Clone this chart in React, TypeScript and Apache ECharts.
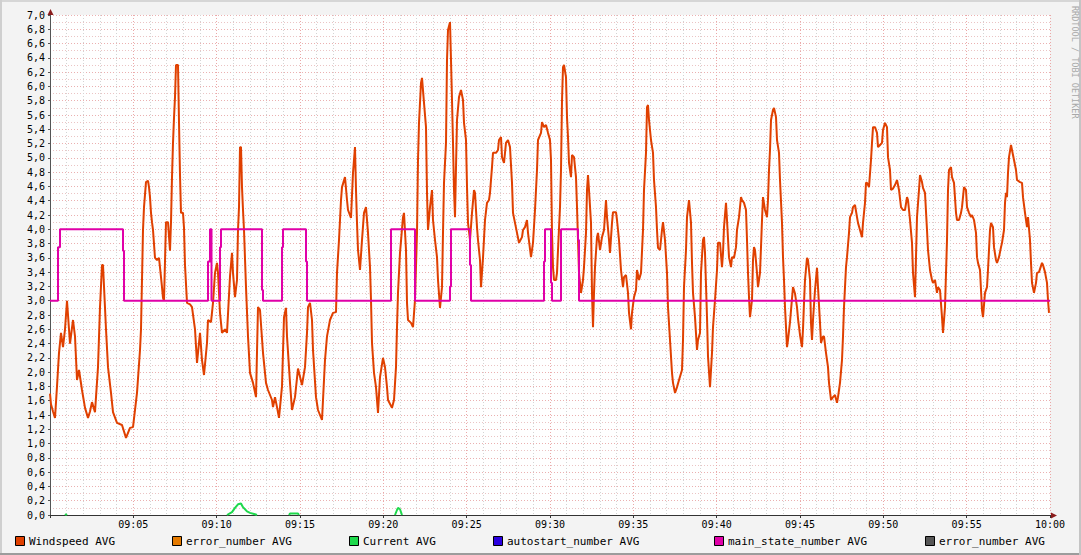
import React, { useEffect, useRef } from "react";
import * as echarts from "echarts";

// Time axis: minutes after 09:00 (0 .. 60)
const xTickMinutes = [5, 10, 15, 20, 25, 30, 35, 40, 45, 50, 55, 60];

// Windspeed AVG : [minute, value]
const windspeed: [number, number][] = [
  [0.0, 1.7], [0.06, 1.55], [0.18, 1.45], [0.3, 1.36], [0.42, 1.8], [0.54, 2.27], [0.66, 2.55], [0.78, 2.35],
  [0.9, 2.6], [1.02, 3.0], [1.08, 2.8], [1.2, 2.4], [1.38, 2.73], [1.5, 2.5], [1.62, 1.89], [1.74, 2.03],
  [1.92, 1.75], [2.1, 1.5], [2.28, 1.36], [2.4, 1.45], [2.52, 1.58], [2.7, 1.44], [2.88, 2.07], [3.0, 2.91],
  [3.12, 3.5], [3.18, 3.5], [3.36, 2.6], [3.48, 2.07], [3.66, 1.71], [3.78, 1.44], [4.02, 1.29], [4.32, 1.26],
  [4.56, 1.08], [4.8, 1.22], [4.98, 1.23], [5.22, 1.71], [5.4, 2.31], [5.46, 2.6], [5.58, 3.99], [5.64, 4.31],
  [5.76, 4.66], [5.88, 4.68], [5.94, 4.59], [6.0, 4.45], [6.06, 4.23], [6.12, 4.1], [6.18, 3.99], [6.3, 3.6],
  [6.42, 3.57], [6.54, 3.6], [6.66, 3.33], [6.72, 3.19], [6.78, 3.04], [6.84, 3.0], [6.96, 4.1], [7.08, 4.1],
  [7.2, 3.7], [7.26, 4.1], [7.32, 4.73], [7.38, 5.21], [7.44, 5.56], [7.5, 5.85], [7.56, 6.3], [7.68, 6.3],
  [7.74, 5.5], [7.8, 4.76], [7.86, 4.23], [7.98, 4.23], [8.04, 4.02], [8.1, 3.5], [8.22, 2.97], [8.4, 2.95],
  [8.52, 2.91], [8.7, 2.6], [8.82, 2.13], [9.0, 2.55], [9.12, 2.17], [9.24, 1.96], [9.42, 2.41], [9.48, 2.73],
  [9.66, 2.7], [9.78, 2.97], [9.9, 3.39], [10.02, 3.53], [10.08, 3.39], [10.2, 2.83], [10.32, 2.55], [10.5, 2.6],
  [10.62, 2.55], [10.8, 3.34], [10.92, 3.67], [10.98, 3.39], [11.1, 3.05], [11.22, 3.29], [11.28, 3.99], [11.34, 4.31],
  [11.4, 5.15], [11.46, 5.15], [11.52, 4.59], [11.58, 4.27], [11.64, 3.99], [11.76, 3.19], [11.88, 2.5], [12.0, 1.99],
  [12.18, 1.85], [12.36, 1.65], [12.48, 2.91], [12.6, 2.87], [12.78, 2.27], [12.96, 1.85], [13.08, 1.75], [13.32, 1.61],
  [13.38, 1.51], [13.5, 1.65], [13.62, 1.51], [13.74, 1.36], [13.92, 1.8], [14.04, 2.77], [14.16, 2.9], [14.22, 2.5],
  [14.4, 1.85], [14.52, 1.47], [14.7, 1.65], [14.88, 2.05], [15.12, 1.82], [15.3, 2.07], [15.42, 2.55], [15.48, 2.91],
  [15.6, 2.97], [15.72, 2.73], [15.78, 2.31], [15.96, 1.65], [16.08, 1.47], [16.32, 1.33], [16.38, 1.61], [16.5, 2.17],
  [16.62, 2.5], [16.8, 2.73], [16.98, 2.83], [17.16, 2.84], [17.22, 3.39], [17.34, 3.85], [17.46, 4.41], [17.52, 4.59],
  [17.7, 4.73], [17.82, 4.41], [17.88, 4.27], [18.06, 4.16], [18.18, 4.79], [18.3, 5.15], [18.36, 4.55], [18.42, 4.09],
  [18.48, 3.71], [18.6, 3.43], [18.72, 3.85], [18.84, 4.23], [18.96, 4.31], [19.08, 3.95], [19.2, 3.47], [19.26, 3.01],
  [19.32, 2.41], [19.44, 1.99], [19.56, 1.79], [19.68, 1.43], [19.8, 1.93], [19.98, 2.2], [20.1, 2.07], [20.22, 1.79],
  [20.28, 1.61], [20.52, 1.5], [20.64, 1.61], [20.76, 2.07], [20.82, 2.63], [20.88, 3.11], [21.0, 3.67], [21.18, 4.17],
  [21.24, 4.23], [21.36, 3.71], [21.42, 2.97], [21.48, 2.73], [21.66, 2.69], [21.78, 2.63], [21.9, 3.01], [22.02, 3.95],
  [22.08, 4.97], [22.14, 5.49], [22.26, 6.05], [22.32, 6.12], [22.44, 5.77], [22.56, 5.43], [22.62, 4.51], [22.68, 3.99],
  [22.8, 4.31], [22.92, 4.55], [22.98, 4.13], [23.1, 3.85], [23.22, 3.61], [23.28, 3.29], [23.4, 2.9], [23.52, 3.19],
  [23.58, 3.95], [23.64, 4.65], [23.76, 5.21], [23.82, 6.37], [23.88, 6.79], [24.0, 6.9], [24.06, 6.37], [24.12, 5.81],
  [24.18, 5.21], [24.24, 4.55], [24.3, 4.17], [24.36, 4.87], [24.42, 5.53], [24.54, 5.85], [24.66, 5.95], [24.78, 5.81],
  [24.84, 5.49], [24.96, 5.25], [25.02, 4.6], [25.08, 4.09], [25.2, 3.85], [25.32, 4.23], [25.44, 4.55], [25.5, 4.51],
  [25.62, 4.03], [25.68, 3.85], [25.8, 3.57], [25.86, 3.19], [25.98, 3.6], [26.1, 4.13], [26.22, 4.37], [26.34, 4.41],
  [26.4, 4.51], [26.52, 4.87], [26.58, 5.07], [26.76, 5.07], [26.88, 5.11], [26.94, 5.25], [27.06, 5.29], [27.12, 5.01],
  [27.24, 4.93], [27.36, 5.21], [27.48, 5.25], [27.6, 5.15], [27.72, 4.65], [27.78, 4.23], [27.9, 4.09], [28.02, 3.95],
  [28.14, 3.81], [28.32, 3.89], [28.38, 3.99], [28.5, 4.03], [28.62, 4.13], [28.68, 3.95], [28.86, 3.61], [28.98, 3.81],
  [29.1, 4.27], [29.22, 4.83], [29.28, 5.25], [29.46, 5.35], [29.52, 5.5], [29.64, 5.43], [29.76, 5.46], [29.88, 5.35],
  [30.0, 5.25], [30.06, 4.97], [30.12, 3.95], [30.18, 3.47], [30.24, 3.29], [30.36, 3.29], [30.42, 3.39], [30.48, 3.71],
  [30.6, 4.31], [30.66, 4.83], [30.72, 5.8], [30.78, 6.27], [30.84, 6.3], [30.96, 6.13], [31.02, 5.57], [31.08, 5.29],
  [31.14, 4.93], [31.26, 4.73], [31.32, 5.04], [31.44, 5.01], [31.56, 4.73], [31.62, 4.31], [31.68, 3.85], [31.74, 3.39],
  [31.86, 3.11], [31.98, 3.29], [32.04, 3.47], [32.16, 3.95], [32.22, 4.55], [32.28, 4.76], [32.34, 4.55], [32.46, 4.09],
  [32.52, 3.11], [32.58, 2.63], [32.64, 3.11], [32.7, 3.47], [32.82, 3.89], [32.88, 3.95], [33.0, 3.71], [33.12, 3.89],
  [33.24, 3.99], [33.36, 4.41], [33.42, 4.17], [33.54, 3.85], [33.6, 3.67], [33.72, 4.09], [33.78, 4.24], [33.96, 4.24],
  [34.02, 4.13], [34.14, 3.85], [34.26, 3.43], [34.38, 3.19], [34.44, 3.33], [34.56, 3.36], [34.68, 3.11], [34.74, 2.83],
  [34.86, 2.6], [34.92, 2.83], [35.04, 3.05], [35.16, 3.15], [35.22, 3.43], [35.34, 3.29], [35.46, 3.39], [35.58, 3.99],
  [35.64, 4.55], [35.76, 5.07], [35.82, 5.71], [35.88, 5.74], [35.94, 5.53], [36.06, 5.25], [36.18, 5.07], [36.24, 4.69],
  [36.36, 4.31], [36.42, 3.99], [36.48, 3.74], [36.6, 3.71], [36.72, 3.99], [36.78, 4.1], [36.9, 3.85], [37.02, 3.39],
  [37.08, 2.91], [37.2, 2.45], [37.32, 1.99], [37.38, 1.85], [37.5, 1.71], [37.62, 1.79], [37.74, 1.89], [37.92, 2.03],
  [37.98, 2.45], [38.04, 3.19], [38.16, 3.71], [38.22, 4.17], [38.34, 4.41], [38.46, 4.09], [38.52, 3.53], [38.58, 3.11],
  [38.7, 2.77], [38.82, 2.31], [38.88, 2.45], [39.0, 2.55], [39.06, 3.39], [39.18, 3.85], [39.24, 3.89], [39.3, 3.67],
  [39.42, 2.77], [39.48, 2.22], [39.6, 1.79], [39.72, 2.27], [39.78, 2.63], [39.9, 3.01], [40.02, 3.43], [40.08, 3.81],
  [40.2, 3.81], [40.32, 3.47], [40.38, 3.67], [40.44, 4.03], [40.56, 4.37], [40.62, 4.13], [40.74, 3.61], [40.86, 3.47],
  [40.92, 3.61], [41.04, 3.6], [41.16, 3.75], [41.22, 3.99], [41.34, 4.17], [41.46, 4.45], [41.52, 4.41], [41.64, 4.37],
  [41.76, 4.27], [41.82, 3.85], [41.88, 3.39], [41.94, 3.05], [42.0, 2.77], [42.12, 3.01], [42.18, 3.57], [42.24, 3.75],
  [42.3, 3.71], [42.42, 3.39], [42.48, 3.19], [42.6, 3.39], [42.66, 3.75], [42.72, 4.13], [42.78, 4.45], [42.9, 4.27],
  [43.02, 4.17], [43.08, 4.41], [43.14, 4.83], [43.2, 5.11], [43.26, 5.53], [43.38, 5.67], [43.44, 5.7], [43.56, 5.57],
  [43.62, 5.25], [43.74, 5.07], [43.8, 4.69], [43.92, 4.09], [43.98, 3.61], [44.04, 3.29], [44.1, 2.91], [44.22, 2.35],
  [44.28, 2.45], [44.4, 2.7], [44.52, 3.03], [44.58, 3.19], [44.7, 3.1], [44.82, 2.91], [44.88, 2.75], [45.0, 2.52],
  [45.12, 2.35], [45.18, 2.6], [45.24, 2.97], [45.3, 3.29], [45.42, 3.6], [45.48, 3.57], [45.6, 3.29], [45.66, 2.69],
  [45.72, 2.45], [45.78, 2.73], [45.9, 3.15], [46.02, 3.46], [46.08, 3.19], [46.2, 2.69], [46.26, 2.41], [46.38, 2.5],
  [46.44, 2.5], [46.56, 2.27], [46.68, 2.07], [46.74, 1.85], [46.86, 1.61], [46.98, 1.65], [47.1, 1.68], [47.22, 1.57],
  [47.28, 1.65], [47.4, 1.85], [47.52, 2.17], [47.58, 2.5], [47.64, 2.91], [47.76, 3.47], [47.82, 3.61], [47.94, 3.95],
  [48.0, 4.17], [48.12, 4.23], [48.18, 4.31], [48.3, 4.34], [48.42, 4.17], [48.48, 4.09], [48.6, 3.99], [48.72, 3.89],
  [48.78, 4.09], [48.9, 4.37], [48.96, 4.65], [49.02, 4.65], [49.14, 4.59], [49.26, 4.97], [49.32, 5.21], [49.38, 5.43],
  [49.5, 5.43], [49.62, 5.35], [49.68, 5.15], [49.8, 5.18], [49.92, 5.21], [49.98, 5.39], [50.1, 5.49], [50.22, 5.43],
  [50.28, 5.01], [50.4, 4.83], [50.46, 4.55], [50.58, 4.57], [50.7, 4.62], [50.82, 4.69], [50.94, 4.55], [51.06, 4.31],
  [51.18, 4.27], [51.3, 4.27], [51.42, 4.45], [51.48, 4.41], [51.6, 4.13], [51.72, 3.81], [51.78, 3.39], [51.9, 3.05],
  [51.96, 3.61], [52.02, 4.17], [52.14, 4.55], [52.2, 4.76], [52.32, 4.66], [52.38, 4.58], [52.5, 4.51], [52.62, 3.99],
  [52.68, 3.71], [52.8, 3.43], [52.92, 3.29], [52.98, 3.25], [53.1, 3.29], [53.22, 3.11], [53.28, 3.19], [53.4, 3.15],
  [53.52, 2.77], [53.58, 2.55], [53.7, 2.91], [53.82, 3.85], [53.88, 4.55], [53.94, 4.83], [54.06, 4.87], [54.12, 4.73],
  [54.24, 4.65], [54.36, 4.23], [54.42, 4.13], [54.54, 4.13], [54.66, 4.23], [54.72, 4.31], [54.84, 4.59], [54.96, 4.55],
  [55.02, 4.31], [55.14, 4.23], [55.26, 4.17], [55.32, 4.2], [55.44, 4.13], [55.56, 3.95], [55.62, 3.61], [55.68, 3.53],
  [55.8, 3.43], [55.86, 3.15], [55.92, 2.87], [55.98, 2.77], [56.1, 3.11], [56.22, 3.19], [56.28, 3.43], [56.4, 3.99],
  [56.46, 4.09], [56.58, 4.03], [56.64, 3.75], [56.76, 3.57], [56.82, 3.53], [56.94, 3.61], [57.06, 3.75], [57.12, 3.81],
  [57.24, 3.99], [57.3, 4.37], [57.36, 4.51], [57.42, 4.45], [57.48, 4.79], [57.54, 5.01], [57.66, 5.18], [57.72, 5.11],
  [57.84, 4.97], [57.96, 4.83], [58.02, 4.69], [58.2, 4.66], [58.32, 4.65], [58.38, 4.45], [58.5, 4.23], [58.62, 4.03],
  [58.68, 4.17], [58.8, 3.85], [58.86, 3.53], [58.92, 3.25], [59.04, 3.11], [59.16, 3.25], [59.22, 3.39], [59.34, 3.4],
  [59.52, 3.53], [59.58, 3.5], [59.7, 3.4], [59.82, 3.25], [59.88, 3.01], [59.94, 2.83],
];

// main_state_number AVG : [minute, value] (value holds from that minute on)
const mainState: [number, number][] = [
  [0.0, 3.0], [0.48, 3.75], [0.6, 4.0], [4.38, 3.7], [4.44, 3.0], [9.48, 3.55], [9.6, 4.0], [9.69, 3.0],
  [10.2, 3.75], [10.26, 4.0], [12.72, 3.15], [12.78, 3.0], [13.92, 3.75], [13.98, 4.0], [15.36, 3.55], [15.42, 3.0],
  [20.46, 4.0], [21.9, 3.0], [24.0, 3.2], [24.06, 4.0], [25.2, 3.5], [25.26, 3.0], [29.64, 3.55], [29.7, 4.0],
  [30.06, 3.25], [30.12, 3.0], [30.66, 4.0], [31.68, 3.85], [31.74, 3.0], [60.0, 3.0],
];

// Current AVG : [minute, value]; null = no line (value 0, hidden by the axis)
const current: [number, number | null][] = [
  [0.9, 0], [0.96, 0.01], [1.02, 0], [1.1, null],
  [10.62, 0], [10.92, 0.04], [11.1, 0.1], [11.28, 0.15], [11.46, 0.16], [11.58, 0.11], [11.82, 0.05], [12.0, 0.03], [12.3, 0.01], [12.42, 0], [12.5, null],
  [14.34, 0], [14.4, 0.02], [14.88, 0.02], [14.94, 0], [15.0, null],
  [20.7, 0], [20.82, 0.07], [20.88, 0.1], [21.0, 0.08], [21.12, 0],
];

const legendNames = ["Windspeed AVG", "error_number AVG", "Current AVG", "autostart_number AVG", "main_state_number AVG", "error_number AVG"];
const legendColors = ["#E04000", "#E57A00", "#1ED94C", "#2A00E0", "#E000A8", "#555555"];
const legendX = [15, 172, 349, 493, 714, 925];

const MONO = '"DejaVu Sans Mono", monospace';

export default function App() {
  const ref = useRef<HTMLDivElement>(null);

  useEffect(() => {
    if (!ref.current) return;
    const chart = echarts.init(ref.current, undefined, { renderer: "svg" });

    const legendGraphics: any[] = [];
    legendNames.forEach((name, i) => {
      legendGraphics.push({
        type: "rect",
        shape: { x: legendX[i] + 0.5, y: 536.5, width: 9, height: 9 },
        style: { fill: legendColors[i], stroke: "#000", lineWidth: 1 },
        silent: true,
      });
      legendGraphics.push({
        type: "text",
        x: legendX[i] + 14,
        y: 541.5,
        style: { text: name, font: `11px ${MONO}`, fill: "#000", align: "left", verticalAlign: "middle" },
        silent: true,
      });
    });

    const option: any = {
      animation: false,
      backgroundColor: "#F3F3F3",
      grid: { left: 50, right: 31, top: 15, bottom: 40, containLabel: false, show: true, backgroundColor: "#FFFFFF", borderWidth: 0 },
      xAxis: {
        type: "value",
        min: 0,
        max: 60,
        interval: 5,
        axisLine: { show: true, lineStyle: { color: "#333333", width: 1 } },
        axisTick: { show: true, length: 3, lineStyle: { color: "#333333" } },
        axisLabel: {
          margin: 4,
          fontFamily: "DejaVu Sans Mono",
          fontSize: 10,
          color: "#000",
          formatter: (v: number) => {
            if (!xTickMinutes.includes(Math.round(v))) return "";
            const m = Math.round(v);
            if (m === 60) return "10:00";
            return "09:" + String(m).padStart(2, "0");
          },
        },
        splitLine: { show: true, lineStyle: { color: "#EBA8A8", type: [1, 2], width: 1 } },
        minorTick: { show: false, splitNumber: 5 },
        minorSplitLine: { show: true, lineStyle: { color: "#D4D4D4", type: [1, 2], width: 1 } },
      },
      yAxis: {
        type: "value",
        min: 0,
        max: 7,
        interval: 0.2,
        axisLine: { show: true, lineStyle: { color: "#555555", width: 1 } },
        axisTick: { show: true, length: 2, lineStyle: { color: "#555555" } },
        axisLabel: {
          margin: 5,
          fontFamily: "DejaVu Sans Mono",
          fontSize: 10,
          color: "#000",
          formatter: (v: number) => v.toFixed(1).replace(".", ","),
        },
        splitLine: { show: true, lineStyle: { color: "#EBB0B0", type: [1, 2], width: 1 } },
        minorTick: { show: false, splitNumber: 2 },
        minorSplitLine: { show: true, lineStyle: { color: "#EBC4C4", type: [1, 2], width: 1 } },
      },
      series: [
        {
          name: "Windspeed AVG",
          type: "line",
          data: windspeed,
          showSymbol: false,
          symbol: "none",
          lineStyle: { color: "#E04000", width: 2 },
          silent: true,
          z: 3,
        },
        {
          name: "Current AVG",
          type: "line",
          data: current,
          showSymbol: false,
          symbol: "none",
          connectNulls: false,
          lineStyle: { color: "#1ED94C", width: 2 },
          silent: true,
          z: 3,
        },
        {
          name: "main_state_number AVG",
          type: "line",
          data: mainState,
          step: "end",
          showSymbol: false,
          symbol: "none",
          lineStyle: { color: "#E000A8", width: 2 },
          silent: true,
          z: 4,
        },
      ],
      graphic: [
        // frame
        { type: "line", shape: { x1: 0, y1: 1, x2: 1081, y2: 1 }, style: { stroke: "#D6D6D6", lineWidth: 2 }, silent: true },
        { type: "line", shape: { x1: 1, y1: 0, x2: 1, y2: 555 }, style: { stroke: "#CFCFCF", lineWidth: 2 }, silent: true },
        { type: "line", shape: { x1: 0, y1: 554, x2: 1081, y2: 554 }, style: { stroke: "#9C9C9C", lineWidth: 2 }, silent: true },
        { type: "line", shape: { x1: 1080, y1: 0, x2: 1080, y2: 555 }, style: { stroke: "#C4C4C4", lineWidth: 2 }, silent: true },
        // axis arrows
        { type: "polygon", shape: { points: [[50.5, 9], [47.5, 15], [53.5, 15]] }, style: { fill: "#8B1C1C" }, silent: true, z: 10 },
        { type: "polygon", shape: { points: [[1057, 515.5], [1051, 512.5], [1051, 518.5]] }, style: { fill: "#8B1C1C" }, silent: true, z: 10 },
        // watermark
        {
          type: "text",
          x: 1075,
          y: 6,
          rotation: -Math.PI / 2,
          style: { text: "RRDTOOL / TOBI OETIKER", font: `8.5px ${MONO}`, fill: "#A8A8A8", align: "left", verticalAlign: "middle" },
          silent: true,
        },
        ...legendGraphics,
      ],
    };

    chart.setOption(option);
    return () => chart.dispose();
  }, []);

  return (
    <div
      ref={ref}
      style={{ position: "fixed", left: 0, top: 0, width: 1081, height: 555 }}
    />
  );
}
